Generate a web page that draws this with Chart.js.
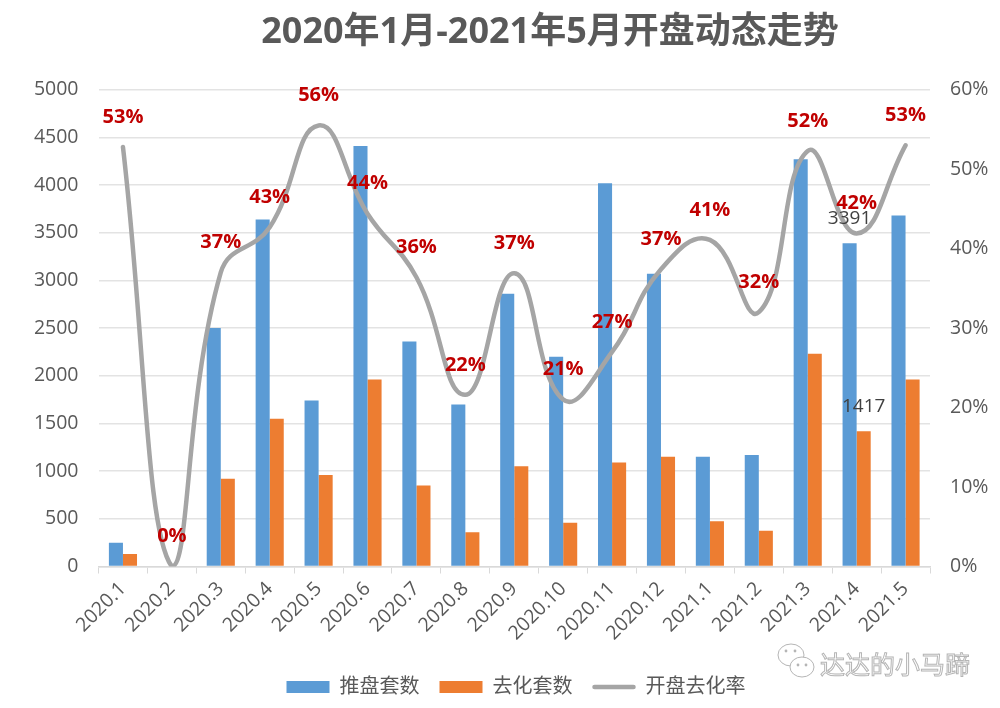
<!DOCTYPE html>
<html>
<head>
<meta charset="utf-8">
<style>
  html, body { margin: 0; padding: 0; background: #fff; }
  canvas { display: block; }
</style>
<script src="https://cdn.jsdelivr.net/npm/chart.js@4/dist/chart.umd.min.js"></script>
</head>
<body>
<canvas id="chart_area" width="1000" height="708"></canvas>
<script>
var months = ['2020.1', '2020.2', '2020.3', '2020.4', '2020.5', '2020.6', '2020.7', '2020.8', '2020.9',
    '2020.10', '2020.11', '2020.12', '2021.1', '2021.2', '2021.3', '2021.4', '2021.5'];
var pushed = [250, 0, 2500, 3640, 1740, 4410, 2360, 1700, 2860, 2200, 4020, 3070, 1150, 1170, 4270, 3391, 3680];
var sold = [130, 0, 920, 1550, 960, 1960, 850, 360, 1050, 460, 1090, 1150, 475, 375, 2230, 1417, 1960];
var rate = [52.8, 0, 37, 42.7, 55.5, 44.4, 36.4, 21.6, 36.9, 21, 27, 37.4, 41.1, 32, 52.3, 41.9, 53];
var labelledMonth = '2021.4';

var fontFamily = '"Open Sans", "Noto Sans CJK SC", sans-serif';
var textColor = '#595959';

// red % labels, the two stray bar labels, legend line and watermark
var extras = {
    id: 'extras',
    afterLayout: function (chart) {
        // title and legend sit right of centre in the original
        chart.titleBlock.left = 100;
        chart.titleBlock.right = 1000;
        chart.legend.left += 16;
        chart.legend.right += 16;
        chart.legend.legendHitBoxes.forEach(function (hit) { hit.left += 16; });
    },
    afterDraw: function (chart) {
        var ctx = chart.ctx;
        ctx.save();
        ctx.textAlign = 'center';
        ctx.textBaseline = 'middle';

        var idx = months.indexOf(labelledMonth);
        ctx.font = '19px ' + fontFamily;
        ctx.fillStyle = '#404040';
        [0, 1].forEach(function (d) {
            var bar = chart.getDatasetMeta(d).data[idx];
            ctx.fillText(chart.data.datasets[d].data[idx], bar.x, bar.y - 25);
        });

        ctx.font = 'bold 20px ' + fontFamily;
        ctx.fillStyle = '#C00000';
        chart.getDatasetMeta(2).data.forEach(function (pt, i) {
            ctx.fillText(Math.round(rate[i]) + '%', pt.x, pt.y - 30);
        });

        // legend sample for the line
        var hit = chart.legend.legendHitBoxes[2];
        ctx.strokeStyle = '#A5A5A5';
        ctx.lineWidth = 4.5;
        ctx.lineCap = 'round';
        ctx.beginPath();
        ctx.moveTo(hit.left + 2, hit.top + hit.height / 2);
        ctx.lineTo(hit.left + 41, hit.top + hit.height / 2);
        ctx.stroke();

        // watermark
        ctx.lineWidth = 1;
        ctx.lineCap = 'butt';
        ctx.strokeStyle = '#b5b5b5';
        ctx.fillStyle = '#ffffff';
        ctx.beginPath();
        ctx.ellipse(791, 655, 13, 11, 0, 0, Math.PI * 2);
        ctx.fill();
        ctx.stroke();
        ctx.beginPath();
        ctx.ellipse(802, 667, 12, 10, 0, 0, Math.PI * 2);
        ctx.fill();
        ctx.stroke();
        ctx.fillStyle = '#b5b5b5';
        [[786, 651], [795, 651], [798, 665], [806, 665]].forEach(function (dot) {
            ctx.beginPath();
            ctx.arc(dot[0], dot[1], 1.4, 0, Math.PI * 2);
            ctx.fill();
        });
        ctx.font = '25px "Noto Sans CJK SC", sans-serif';
        ctx.textAlign = 'left';
        ctx.lineWidth = 1;
        ctx.strokeText('达达的小马蹄', 820, 664);
        ctx.restore();
    }
};

new Chart('chart_area', {
    type: 'bar',
    data: {
        labels: months,
        datasets: [
            {
                label: '推盘套数',
                data: pushed,
                backgroundColor: '#5B9BD5',
                yAxisID: 'y',
                order: 2
            },
            {
                label: '去化套数',
                data: sold,
                backgroundColor: '#ED7D31',
                yAxisID: 'y',
                order: 2
            },
            {
                type: 'line',
                label: '开盘去化率',
                data: rate,
                borderColor: '#A5A5A5',
                backgroundColor: 'transparent',
                borderWidth: 4.5,
                borderCapStyle: 'round',
                tension: 0.45,
                pointRadius: 0,
                yAxisID: 'y1',
                order: 1
            }
        ]
    },
    options: {
        responsive: false,
        animation: false,
        devicePixelRatio: 1,
        categoryPercentage: 0.575,
        barPercentage: 1,
        layout: { padding: { left: 0, right: 0, top: 0, bottom: 1 } },
        plugins: {
            title: {
                display: true,
                text: '2020年1月-2021年5月开盘动态走势',
                color: textColor,
                font: { family: fontFamily, size: 36, weight: 'bold' },
                padding: { top: 11, bottom: 35.5 }
            },
            legend: {
                position: 'bottom',
                labels: {
                    boxWidth: 43,
                    boxHeight: 12,
                    padding: 20,
                    color: textColor,
                    font: { family: fontFamily, size: 20 },
                    generateLabels: function (chart) {
                        var items = Chart.defaults.plugins.legend.labels.generateLabels(chart);
                        items.sort(function (a, b) { return a.datasetIndex - b.datasetIndex; });
                        items[2].fillStyle = 'rgba(0,0,0,0)';
                        items[2].strokeStyle = 'rgba(0,0,0,0)';
                        items[2].lineWidth = 0;
                        return items;
                    }
                }
            },
            tooltip: { enabled: false }
        },
        scales: {
            x: {
                afterFit: function (scale) { scale.height = 90.5; },
                grid: { drawOnChartArea: false, color: '#d9d9d9', tickLength: 7 },
                border: { color: '#d9d9d9', width: 1.5 },
                ticks: {
                    minRotation: 45,
                    maxRotation: 45,
                    autoSkip: false,
                    padding: 4,
                    color: textColor,
                    font: { family: fontFamily, size: 19.5 }
                }
            },
            y: {
                position: 'left',
                min: 0,
                max: 5000,
                afterFit: function (scale) { scale.width = 98.5; },
                grid: { color: '#e3e3e3', lineWidth: 1.5, drawTicks: false },
                border: { display: false },
                ticks: {
                    stepSize: 500,
                    padding: 20,
                    color: textColor,
                    font: { family: fontFamily, size: 19.5 },
                    callback: function (value) { return String(value); }
                }
            },
            y1: {
                position: 'right',
                min: 0,
                max: 60,
                afterFit: function (scale) { scale.width = 70; },
                grid: { drawOnChartArea: false, drawTicks: false },
                border: { display: false },
                ticks: {
                    stepSize: 10,
                    padding: 20,
                    color: textColor,
                    font: { family: fontFamily, size: 19.5 },
                    callback: function (value) { return value + '%'; }
                }
            }
        }
    },
    plugins: [extras]
});
</script>
</body>
</html>
